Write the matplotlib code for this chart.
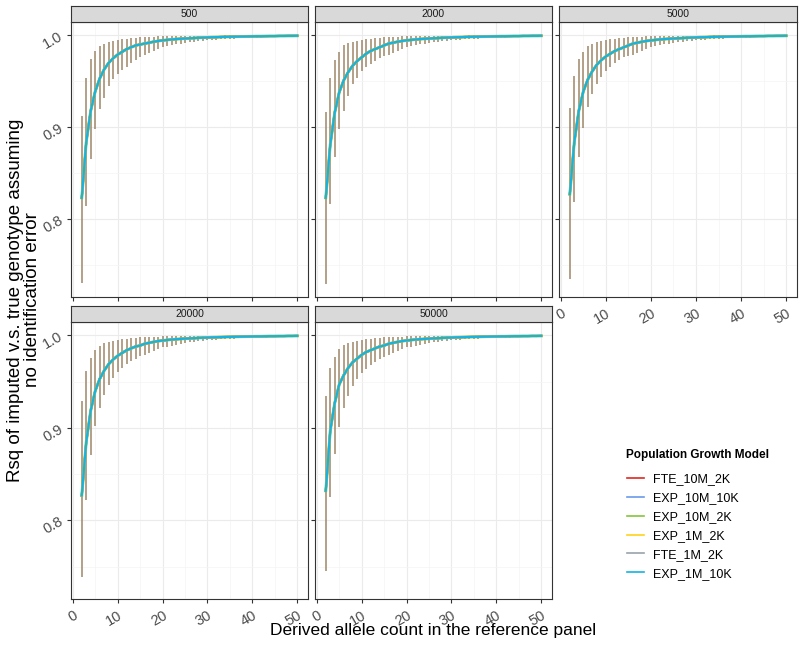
import matplotlib
matplotlib.use("Agg")
import matplotlib.pyplot as plt
from matplotlib.lines import Line2D
from matplotlib.ticker import MultipleLocator

plt.rcParams["font.family"] = ["Liberation Sans", "DejaVu Sans"]

# reference panel sizes (facets)
panels = ["500", "2000", "5000", "20000", "50000"]

# derived allele count
allele_count = list(range(2, 51))

series = ["FTE_10M_2K", "EXP_10M_10K", "EXP_10M_2K", "EXP_1M_2K", "FTE_1M_2K", "EXP_1M_10K"]
colors = ["#E0261F", "#6A9BEA", "#86C53C", "#FFD21A", "#98A3AB", "#12B4E3"]

# counts 2..15, read per facet
mean_head = {
    "500":   [0.823, 0.884, 0.918, 0.939, 0.953, 0.963, 0.970, 0.975, 0.979, 0.982, 0.985, 0.987, 0.989, 0.990],
    "2000":  [0.823, 0.881, 0.916, 0.938, 0.951, 0.960, 0.967, 0.972, 0.976, 0.980, 0.983, 0.985, 0.987, 0.989],
    "5000":  [0.827, 0.884, 0.918, 0.939, 0.952, 0.961, 0.968, 0.973, 0.977, 0.980, 0.983, 0.985, 0.987, 0.989],
    "20000": [0.827, 0.885, 0.919, 0.940, 0.953, 0.962, 0.969, 0.974, 0.978, 0.981, 0.984, 0.986, 0.988, 0.989],
    "50000": [0.832, 0.897, 0.927, 0.947, 0.957, 0.965, 0.971, 0.975, 0.979, 0.982, 0.984, 0.986, 0.988, 0.989],
}
lo_head = {
    "500":   [0.730, 0.814, 0.865, 0.898, 0.920, 0.932, 0.945, 0.952, 0.958, 0.962, 0.966, 0.970, 0.973, 0.976],
    "2000":  [0.729, 0.816, 0.868, 0.898, 0.918, 0.934, 0.947, 0.954, 0.961, 0.965, 0.969, 0.972, 0.975, 0.978],
    "5000":  [0.735, 0.819, 0.868, 0.899, 0.922, 0.936, 0.947, 0.955, 0.961, 0.966, 0.970, 0.973, 0.976, 0.978],
    "20000": [0.739, 0.822, 0.871, 0.902, 0.922, 0.936, 0.946, 0.954, 0.960, 0.965, 0.969, 0.972, 0.975, 0.978],
    "50000": [0.745, 0.825, 0.872, 0.901, 0.921, 0.934, 0.945, 0.953, 0.959, 0.964, 0.968, 0.971, 0.974, 0.977],
}
hi_head = {
    "500":   [0.912, 0.954, 0.974, 0.983, 0.988, 0.991, 0.993, 0.994, 0.995, 0.996, 0.9965, 0.997, 0.9975, 0.998],
    "2000":  [0.917, 0.954, 0.973, 0.982, 0.989, 0.992, 0.993, 0.994, 0.995, 0.996, 0.9965, 0.997, 0.9975, 0.998],
    "5000":  [0.921, 0.956, 0.974, 0.982, 0.988, 0.991, 0.993, 0.994, 0.995, 0.996, 0.9965, 0.997, 0.9975, 0.998],
    "20000": [0.929, 0.962, 0.976, 0.984, 0.989, 0.992, 0.993, 0.994, 0.995, 0.996, 0.9965, 0.997, 0.9975, 0.998],
    "50000": [0.934, 0.965, 0.977, 0.985, 0.990, 0.992, 0.993, 0.994, 0.995, 0.996, 0.9965, 0.997, 0.9975, 0.998],
}

# counts 16..50, the same in every facet at this resolution
mean_tail = [0.991, 0.992, 0.993, 0.9938, 0.9945, 0.995, 0.9955, 0.9959, 0.9962, 0.9965,
             0.9968, 0.997, 0.9973, 0.9975, 0.9977, 0.9979, 0.998, 0.9982, 0.9983, 0.9984,
             0.9985, 0.9986, 0.9987, 0.9988, 0.9989, 0.999, 0.999, 0.9991, 0.9992, 0.9992,
             0.9993, 0.9993, 0.9994, 0.9994, 0.9995]
lo_tail = [0.979, 0.981, 0.983, 0.985, 0.987, 0.988, 0.989, 0.990, 0.991, 0.992,
           0.9925, 0.993, 0.9935, 0.994, 0.9945, 0.995, 0.9953, 0.9956, 0.9959, 0.9962,
           0.9965, 0.9967, 0.9969, 0.9971, 0.9973, 0.9975, 0.9976, 0.9977, 0.9978, 0.9979,
           0.998, 0.9981, 0.9982, 0.9983, 0.9984]
hi_tail = [0.9983, 0.9985, 0.9987, 0.9988, 0.9989, 0.999, 0.9991, 0.9992, 0.9993, 0.9993,
           0.9994, 0.9995, 0.9995, 0.9996, 0.9996, 0.9997, 0.9997, 0.9997, 0.9998, 0.9998,
           0.9998, 0.9998, 0.9999, 0.9999, 0.9999, 0.9999, 0.9999, 1.0, 1.0, 1.0,
           1.0, 1.0, 1.0, 1.0, 1.0]

W, H = 800, 646
fig = plt.figure(figsize=(W / 100, H / 100), dpi=100)

cols_x = [(71, 308), (315, 552), (559, 797)]
rows_y = [(22, 297), (322, 599)]
strip_h = 16
txt_gray = "#4D4D4D"


def px(x0, y0, x1, y1):
    return [x0 / W, 1 - y1 / H, (x1 - x0) / W, (y1 - y0) / H]


for i, name in enumerate(panels):
    r, c = divmod(i, 3)
    x0, x1 = cols_x[c]
    y0, y1 = rows_y[r]
    ax = fig.add_axes(px(x0, y0, x1, y1))
    mean = mean_head[name] + mean_tail
    lo = lo_head[name] + lo_tail
    hi = hi_head[name] + hi_tail

    for s in reversed(range(len(series))):
        ax.vlines(allele_count, lo, hi, color=colors[s], alpha=0.27, lw=1.2, zorder=2)
    for s in range(len(series)):
        lw = 2.1 if series[s] == "EXP_10M_2K" else 1.5
        ax.plot(allele_count, mean, color=colors[s], lw=lw, zorder=3)

    ax.set_xlim(-0.4, 52.4)
    ax.set_ylim(0.715, 1.0145)
    ax.xaxis.set_major_locator(MultipleLocator(10))
    ax.xaxis.set_minor_locator(MultipleLocator(5))
    ax.yaxis.set_major_locator(MultipleLocator(0.1))
    ax.yaxis.set_minor_locator(MultipleLocator(0.05))
    ax.grid(which="major", color="#EBEBEB", lw=0.8, zorder=0)
    ax.grid(which="minor", color="#F4F4F4", lw=0.5, zorder=0)
    ax.set_axisbelow(True)
    for sp in ax.spines.values():
        sp.set_color("#333333")
        sp.set_linewidth(0.8)
    ax.tick_params(which="minor", length=0)
    ax.tick_params(which="major", length=3, color="#333333", labelsize=10.5, labelcolor=txt_gray)

    if c == 0:
        ax.set_yticks([0.8, 0.9, 1.0])
        ax.set_yticklabels(["0.8", "0.9", "1.0"], rotation=30, ha="right", va="center",
                           rotation_mode="anchor")
    else:
        ax.tick_params(axis="y", labelleft=False)
    if r == 1 or i == 2:
        ax.set_xticks([0, 10, 20, 30, 40, 50])
        ax.set_xticklabels(["0", "10", "20", "30", "40", "50"], rotation=30, ha="right",
                           va="top", rotation_mode="anchor")
    else:
        ax.tick_params(axis="x", labelbottom=False)

    # facet strip
    sax = fig.add_axes(px(x0, y0 - strip_h, x1, y0))
    sax.set_facecolor("#D9D9D9")
    sax.set_xticks([])
    sax.set_yticks([])
    for sp in sax.spines.values():
        sp.set_color("#333333")
        sp.set_linewidth(0.8)
    sax.text(0.5, 0.5, name, ha="center", va="center", fontsize=7.5, color="#1A1A1A",
             transform=sax.transAxes)

fig.text(433 / W, 1 - 630 / H, "Derived allele count in the reference panel",
         ha="center", va="center", fontsize=12.5)
fig.text(24 / W, 1 - 300 / H, "Rsq of imputed v.s. true genotype assuming\nno identification error",
         ha="center", va="center", fontsize=13.5, rotation=90, linespacing=1.05)

# legend: title placed on its own so the gap below it can match
fig.text(626 / W, 1 - 455 / H, "Population Growth Model", ha="left", va="center",
         fontsize=8.5, fontweight="bold")
handles = [Line2D([], [], color=col, lw=1.2) for col in colors]
fig.legend(handles, series, loc="upper left", bbox_to_anchor=(616 / W, 1 - 462 / H),
           frameon=False, fontsize=9, handlelength=1.3, handletextpad=0.8,
           labelspacing=0.55)

fig.savefig("out.png", dpi=100)
